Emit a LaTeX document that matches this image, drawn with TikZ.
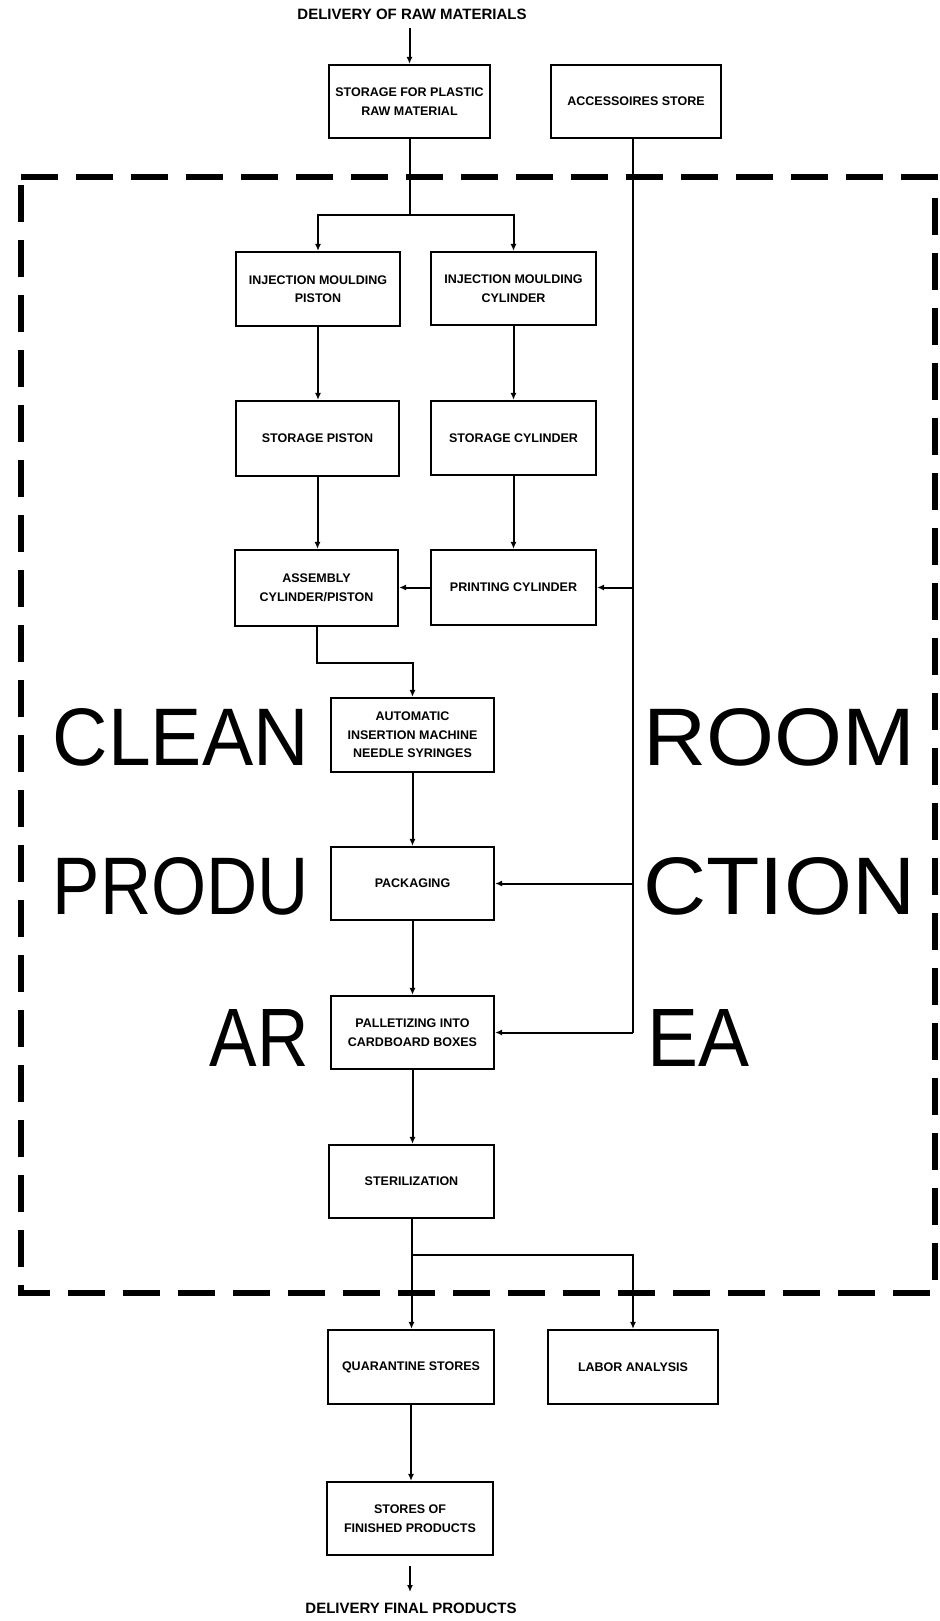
\documentclass[tikz,border=0pt]{standalone}
\usepackage{graphicx}
\usepackage{fontspec}
\setmainfont{Liberation Sans}
\usetikzlibrary{arrows.meta}
\newcommand{\bigword}[2]{\resizebox{#1}{57pt}{#2}}
\begin{document}
\begin{tikzpicture}[x=1pt,y=-1pt,
  box/.style={draw,line width=2.2pt,inner sep=0pt,align=center,font=\fontsize{12.5}{18.5}\selectfont\bfseries},
  conn/.style={line width=2pt},
  arr/.style={conn,-{Latex[length=7pt,width=6pt]}},
  big/.style={font=\fontsize{80}{90}\selectfont,inner sep=0pt},
  lbl/.style={font=\fontsize{15}{18}\selectfont\bfseries,inner sep=0pt},
  border/.style={line width=6pt,dash pattern=on 37pt off 18pt}]
\fill[white] (0,0) rectangle (939,1621);
\useasboundingbox (0,0) rectangle (939,1621);

% clean room border
\draw[border] (21,177) -- (935,177) -- (935,1293) -- (21,1293) -- cycle;

% boxes
\node[box,minimum width=161pt,minimum height=73pt] (store) at (409.5,101.5) {STORAGE FOR PLASTIC\\RAW MATERIAL};
\node[box,minimum width=170pt,minimum height=73pt] (acc) at (636,101.5) {ACCESSOIRES STORE};
\node[box,minimum width=164pt,minimum height=74pt] (injp) at (318,289) {INJECTION MOULDING\\PISTON};
\node[box,minimum width=165pt,minimum height=73pt] (injc) at (513.5,288.5) {INJECTION MOULDING\\CYLINDER};
\node[box,minimum width=163pt,minimum height=75pt] (stp) at (317.5,438.5) {STORAGE PISTON};
\node[box,minimum width=165pt,minimum height=74pt] (stc) at (513.5,438) {STORAGE CYLINDER};
\node[box,minimum width=163pt,minimum height=76pt] (asm) at (316.5,588) {ASSEMBLY\\CYLINDER/PISTON};
\node[box,minimum width=165pt,minimum height=75pt] (prc) at (513.5,587.5) {PRINTING CYLINDER};
\node[box,minimum width=163pt,minimum height=74pt] (auto) at (412.5,735) {AUTOMATIC\\INSERTION MACHINE\\NEEDLE SYRINGES};
\node[box,minimum width=163pt,minimum height=73pt] (pack) at (412.5,883.5) {PACKAGING};
\node[box,minimum width=163pt,minimum height=73pt] (pal) at (412.5,1032.5) {PALLETIZING INTO\\CARDBOARD BOXES};
\node[box,minimum width=165pt,minimum height=73pt] (ster) at (411.5,1181.5) {STERILIZATION};
\node[box,minimum width=166pt,minimum height=74pt] (quar) at (411,1367) {QUARANTINE STORES};
\node[box,minimum width=170pt,minimum height=74pt] (lab) at (633,1367) {LABOR ANALYSIS};
\node[box,minimum width=166pt,minimum height=73pt] (fin) at (410,1518.5) {STORES OF\\FINISHED PRODUCTS};

% labels
\node[lbl] (title) at (412,14) {DELIVERY OF RAW MATERIALS};
\node[lbl] (deliv) at (411,1608) {DELIVERY FINAL PRODUCTS};

% big text
\node[big,anchor=base east] (clean) at (309,765) {\bigword{256pt}{CLEAN}};
\node[big,anchor=base east] (produ) at (309,914) {\bigword{256pt}{PRODU}};
\node[big,anchor=base east] (ar) at (309,1066) {\bigword{99pt}{AR}};
\node[big,anchor=base west] (room) at (643,765) {\bigword{272pt}{ROOM}};
\node[big,anchor=base west] (ction) at (643,914) {\bigword{272pt}{CTION}};
\node[big,anchor=base west] (ea) at (647,1066) {\bigword{102pt}{EA}};

% connectors
\coordinate (t1) at (409.5,28);
\draw[arr] (t1) -- (store.north);
\coordinate (split1) at (409.5,215);
\draw[conn] (store.south) -- (split1);
\draw[arr] (split1) -| (injp.north);
\draw[arr] (split1) -| (injc.north);
\draw[arr] (injp.south) -- (injp.south |- stp.north);
\draw[arr] (injc.south) -- (injc.south |- stc.north);
\draw[arr] (stp.south) -- (stp.south |- asm.north);
\draw[arr] (stc.south) -- (stc.south |- prc.north);
\draw[arr] (prc.west) -- (asm.east |- prc.west);

\coordinate (accb) at (633,1032.5);
\draw[conn] (acc.south -| accb) -- (accb);
\draw[arr] (prc.east -| accb) -- (prc.east);
\draw[arr] (pack.east -| accb) -- (pack.east);
\draw[arr] (accb) -- (pal.east);

\draw[arr] (asm.south) -- ++(0,36) -| (auto.north);
\draw[arr] (auto.south) -- (pack.north);
\draw[arr] (pack.south) -- (pal.north);
\draw[arr] (pal.south) -- (pal.south |- ster.north);

\coordinate (split2) at (411.5,1255);
\draw[arr] (ster.south) -- (ster.south |- quar.north);
\draw[arr] (split2) -| (lab.north);
\draw[arr] (quar.south) -- (quar.south |- fin.north);
\coordinate (d1) at (410,1566);
\coordinate (d2) at (410,1592);
\draw[arr] (d1) -- (d2);
\end{tikzpicture}
\end{document}
